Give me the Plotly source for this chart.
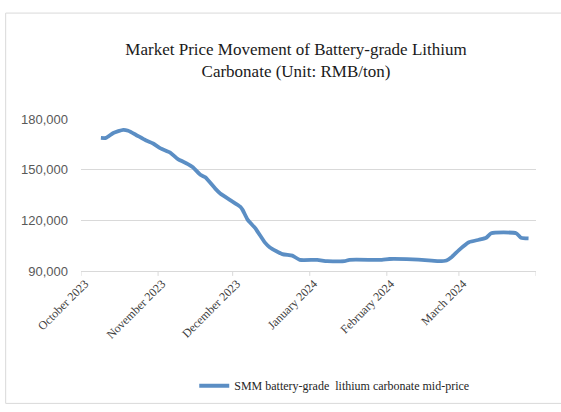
import plotly.graph_objects as go

dates = ["2023-10-09", "2023-10-11", "2023-10-14", "2023-10-18", "2023-10-20", "2023-10-23",
         "2023-10-27", "2023-10-30", "2023-11-02", "2023-11-06", "2023-11-09", "2023-11-13",
         "2023-11-15", "2023-11-18", "2023-11-20", "2023-11-24", "2023-11-26", "2023-11-30",
         "2023-12-04", "2023-12-05", "2023-12-07", "2023-12-10", "2023-12-14", "2023-12-16",
         "2023-12-21", "2023-12-25", "2023-12-28", "2024-01-04", "2024-01-08", "2024-01-15",
         "2024-01-17", "2024-01-30", "2024-02-02", "2024-02-09", "2024-02-19", "2024-02-22",
         "2024-02-25", "2024-02-27", "2024-03-01", "2024-03-05", "2024-03-09", "2024-03-12",
         "2024-03-14", "2024-03-24", "2024-03-26", "2024-03-29"]
prices = [168800, 168800, 171700, 173600, 173000, 170700,
          167400, 165500, 162600, 160000, 156200, 153300,
          151400, 147000, 145500, 138800, 135900, 132000,
          128100, 126200, 120400, 115500, 106800, 103900,
          100000, 99100, 96600, 96600, 95800, 95800,
          96600, 96600, 97100, 97000, 96200, 95800,
          96200, 98100, 102400, 107000, 108500, 109700,
          112400, 112400, 109700, 109300]

tick_dates = ["2023-10-01", "2023-11-01", "2023-12-01", "2024-01-01", "2024-02-01", "2024-03-01"]
tick_labels = ["October 2023", "November 2023", "December 2023", "January 2024",
               "February 2024", "March 2024"]
month_edges = tick_dates + ["2024-04-01"]
y_ticks = [90000, 120000, 150000, 180000]

series_name = "SMM battery-grade  lithium carbonate mid-price"
title_text = "Market Price Movement of Battery-grade Lithium<br>Carbonate (Unit: RMB/ton)"

L, R, T, B = 80.5, 24.5, 119, 138
W, H = 561, 412
pw, ph = W - L - R, H - T - B

def px(x):
    return (x - L) / pw

def py(y):
    return (H - B - y) / ph

fig = go.Figure()
fig.add_trace(go.Scatter(
    x=dates, y=prices, mode="lines", name=series_name,
    line=dict(color="#5b8ec4", width=3.8, shape="spline", smoothing=0.5),
))

fig.update_layout(
    width=W, height=H,
    margin=dict(l=L, r=R, t=T, b=B),
    paper_bgcolor="white", plot_bgcolor="white",
    title=dict(text=title_text, x=296 / W, xanchor="center", y=1 - 55 / H, yanchor="middle",
               yref="container", xref="container",
               font=dict(family="Liberation Serif", size=17, color="#1a1a1a")),
    showlegend=True,
    legend=dict(x=px(194), y=py(391), xanchor="left", yanchor="middle",
                font=dict(family="Liberation Serif", size=12, color="#262626"),
                bgcolor="rgba(0,0,0,0)", itemwidth=30),
    shapes=[dict(type="rect", xref="paper", yref="paper",
                 x0=px(5), x1=px(575), y0=py(409), y1=py(11),
                 line=dict(color="#d9d9d9", width=1), layer="below")],
)

fig.update_xaxes(
    type="date", range=["2023-10-01", "2024-04-01"],
    tickmode="array", tickvals=tick_dates, ticktext=tick_labels,
    tickangle=-45, tickfont=dict(family="Liberation Serif", size=12, color="#404040"),
    showgrid=False, showline=True, linecolor="#d9d9d9", linewidth=1,
    ticks="", zeroline=False, ticklabelshift=4,
)
fig.update_yaxes(
    range=[90000, 180000], tickmode="array", tickvals=y_ticks,
    tickformat=",", tickfont=dict(family="Liberation Sans", size=13, color="#595959"),
    showgrid=True, gridcolor="#d9d9d9", gridwidth=1, zeroline=False,
    showline=False, ticks="", ticklabelstandoff=12,
)

# month boundary tick marks on the axis
for d in month_edges:
    fig.add_shape(type="line", xref="x", yref="paper", x0=d, x1=d, y0=0, y1=-5 / ph,
                  line=dict(color="#d9d9d9", width=1))

fig.write_html("out.html")
